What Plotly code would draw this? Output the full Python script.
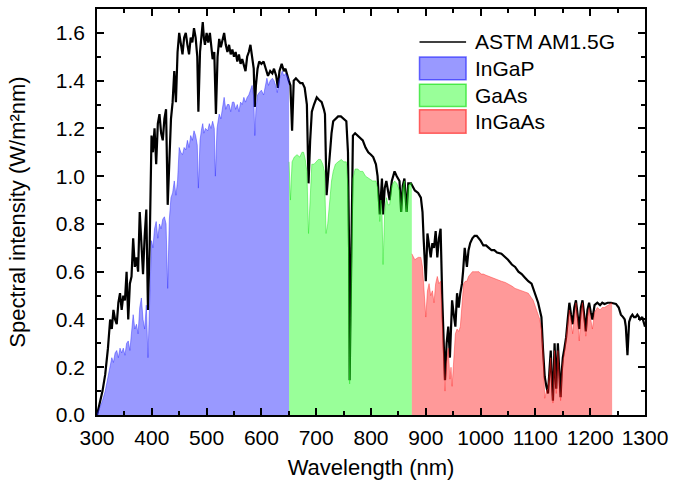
import plotly.graph_objects as go

# ---------------- data ----------------
am_wl = [300, 305, 310, 315, 320, 324, 327, 330, 333, 336, 339, 342, 345, 348, 351, 354, 357, 360, 363, 366,
         369, 372, 375, 378, 381, 384, 387, 390, 393, 396, 399.5, 402, 405, 408, 411, 414, 417, 420, 423, 426,
         429, 432, 435, 438, 441, 444, 447, 450, 453, 456, 459, 462, 465, 468, 471, 474, 477, 480, 483, 485,
         488, 491, 493, 495, 497, 500, 503, 506, 509, 511, 514, 517, 520, 523, 526, 529, 532, 535, 538, 541,
         544, 547, 550, 553, 556, 559, 562, 565, 568, 571, 574, 577, 580, 583, 586, 588, 590, 593, 596, 600,
         604, 608, 612, 616, 620, 623, 627, 630, 633, 637, 641, 644, 647, 650, 653, 656, 659, 663, 667, 671,
         675, 679, 683, 686, 689, 692, 696, 701, 705, 710, 714, 716, 719, 722, 725, 728, 731, 735, 740, 745,
         750, 755, 758, 760, 761, 763, 765, 767, 771, 776, 780, 785, 790, 795, 800, 804, 809, 812, 816, 818,
         820, 822, 825, 828, 831, 834, 838, 843, 847, 852, 855, 858, 861, 865, 868, 873, 880, 886, 891, 894,
         896, 898, 900, 903, 906, 909, 912, 915, 918, 921, 924, 927, 930, 933, 935, 938, 941, 944, 946, 948,
         951, 954, 957, 960, 963, 966, 968, 971, 973, 975, 978, 981, 985, 989, 993, 997, 1000, 1005, 1010, 1015,
         1020, 1025, 1030, 1038, 1045, 1050, 1057, 1063, 1069, 1075, 1081, 1087, 1093, 1096, 1099, 1102, 1105, 1108, 1111, 1114,
         1117, 1120, 1123, 1126, 1128, 1130, 1132, 1135, 1138, 1141, 1143, 1146, 1148, 1150, 1153, 1156, 1159, 1162, 1165, 1168,
         1171, 1174, 1177, 1180, 1183, 1186, 1189, 1192, 1195, 1198, 1201, 1204, 1208, 1213, 1218, 1222, 1226, 1232, 1238, 1242,
         1247, 1252, 1256, 1260, 1263, 1265, 1268, 1271, 1274, 1277, 1280, 1283, 1286, 1289, 1291, 1295, 1298, 1300]
am_val = [0.0, 0.05, 0.10, 0.17, 0.28, 0.40, 0.36, 0.44, 0.40, 0.38, 0.47, 0.51, 0.44, 0.50, 0.48, 0.60, 0.40, 0.55, 0.58, 0.74,
          0.62, 0.66, 0.60, 0.85, 0.70, 0.59, 0.75, 0.86, 0.44, 0.70, 1.17, 1.10, 1.20, 1.05, 1.22, 1.26, 1.18, 1.15, 1.24, 1.28,
          0.88, 1.10, 1.24, 1.31, 1.44, 1.31, 1.52, 1.60, 1.55, 1.51, 1.58, 1.60, 1.55, 1.51, 1.58, 1.56, 1.62, 1.58, 1.50, 1.27,
          1.52, 1.60, 1.645, 1.58, 1.55, 1.60, 1.56, 1.60, 1.52, 1.49, 1.52, 1.26, 1.50, 1.575, 1.54, 1.57, 1.60, 1.55, 1.52, 1.55,
          1.51, 1.53, 1.50, 1.52, 1.48, 1.51, 1.47, 1.49, 1.46, 1.44, 1.50, 1.52, 1.55, 1.50, 1.45, 1.29, 1.38, 1.45, 1.48, 1.47,
          1.48, 1.45, 1.42, 1.44, 1.43, 1.45, 1.42, 1.37, 1.44, 1.47, 1.44, 1.45, 1.42, 1.40, 1.38, 1.19, 1.40, 1.41, 1.40, 1.39,
          1.39, 1.37, 1.30, 0.97, 1.15, 1.27, 1.30, 1.33, 1.32, 1.31, 1.28, 1.26, 0.92, 1.02, 1.08, 1.18, 1.23, 1.24, 1.25, 1.25,
          1.24, 1.23, 1.10, 0.70, 0.146, 0.45, 0.80, 1.17, 1.18, 1.17, 1.16, 1.15, 1.12, 1.10, 1.09, 1.08, 1.05, 1.00, 0.84, 0.95,
          0.99, 0.84, 0.95, 0.98, 0.94, 0.90, 0.98, 1.02, 1.00, 0.98, 0.85, 0.96, 0.99, 0.85, 0.97, 0.97, 0.94, 0.93, 0.91, 0.85,
          0.74, 0.65, 0.56, 0.76, 0.70, 0.66, 0.72, 0.70, 0.77, 0.66, 0.74, 0.78, 0.49, 0.25, 0.146, 0.30, 0.37, 0.24, 0.36, 0.48,
          0.42, 0.37, 0.51, 0.45, 0.51, 0.55, 0.60, 0.70, 0.66, 0.62, 0.69, 0.72, 0.74, 0.75, 0.75, 0.74, 0.73, 0.71, 0.71, 0.70,
          0.69, 0.69, 0.68, 0.675, 0.66, 0.65, 0.63, 0.62, 0.60, 0.59, 0.575, 0.56, 0.55, 0.53, 0.51, 0.49, 0.47, 0.44, 0.41, 0.27,
          0.16, 0.12, 0.09, 0.20, 0.27, 0.15, 0.06, 0.30, 0.11, 0.30, 0.20, 0.075, 0.18, 0.24, 0.28, 0.325, 0.40, 0.47, 0.42, 0.38,
          0.45, 0.48, 0.42, 0.36, 0.45, 0.48, 0.42, 0.35, 0.44, 0.47, 0.43, 0.40, 0.46, 0.47, 0.46, 0.47, 0.465, 0.47, 0.47, 0.468,
          0.465, 0.45, 0.42, 0.41, 0.40, 0.37, 0.25, 0.39, 0.41, 0.42, 0.41, 0.41, 0.42, 0.41, 0.40, 0.41, 0.39, 0.37]

ingap_wl = [300, 305, 310, 315, 320, 324, 327, 330, 333, 336, 339, 342, 345, 348, 351, 354, 357, 360, 363, 366,
            369, 372, 375, 378, 381, 384, 387, 390, 393, 396, 399.5, 402, 405, 408, 411, 414, 417, 420, 423, 426,
            429, 432, 435, 438, 441, 444, 447, 450, 453, 456, 459, 462, 465, 468, 471, 474, 477, 480, 483, 485,
            488, 491, 493, 495, 498, 502, 505, 508, 511, 514, 516, 519, 523, 526, 529, 532, 535, 538, 541, 544,
            547, 550, 553, 556, 559, 562, 565, 568, 571, 574, 577, 580, 583, 586, 588, 590, 593, 596, 600, 604,
            607, 610, 613, 616, 620, 623, 626, 629, 632, 635, 638, 641, 644, 647, 650.5]
ingap_val = [0.0, 0.03, 0.06, 0.10, 0.16, 0.21, 0.24, 0.22, 0.26, 0.27, 0.24, 0.28, 0.26, 0.28, 0.25, 0.30, 0.31, 0.27, 0.35, 0.42,
             0.36, 0.38, 0.34, 0.45, 0.49, 0.40, 0.36, 0.46, 0.24, 0.44, 0.73, 0.70, 0.78, 0.81, 0.74, 0.80, 0.78, 0.82, 0.83, 0.80,
             0.53, 0.82, 0.91, 0.93, 0.98, 0.92, 0.98, 1.12, 1.10, 1.09, 1.12, 1.11, 1.15, 1.12, 1.17, 1.15, 1.19, 1.17, 1.13, 0.95,
             1.15, 1.20, 1.22, 1.18, 1.20, 1.19, 1.22, 1.20, 1.23, 1.20, 1.00, 1.20, 1.26, 1.24, 1.28, 1.33, 1.28, 1.30, 1.30, 1.27,
             1.31, 1.31, 1.28, 1.30, 1.27, 1.31, 1.30, 1.33, 1.31, 1.33, 1.34, 1.36, 1.38, 1.33, 1.17, 1.28, 1.34, 1.35, 1.36, 1.34,
             1.38, 1.41, 1.38, 1.40, 1.41, 1.40, 1.38, 1.35, 1.40, 1.42, 1.44, 1.42, 1.43, 1.42, 1.40]

gaas_wl = [650.5, 653, 656, 660, 665, 670, 674, 677, 680, 683, 686, 689, 692, 696, 700, 704, 708, 712, 715, 718,
           721, 725, 728, 731, 735, 740, 746, 750, 755, 758, 760, 761, 763, 765, 767, 771, 776, 780, 785, 790,
           797, 803, 809, 812, 816, 818, 820, 822, 825, 828, 831, 834, 838, 843, 847, 852, 855, 858, 861, 865,
           868, 872, 874.5]
gaas_val = [1.06, 0.90, 1.06, 1.08, 1.09, 1.08, 1.10, 1.10, 1.07, 1.02, 0.76, 0.92, 1.05, 1.05, 1.06, 1.07, 1.07, 1.05, 1.02, 0.76,
            0.80, 0.91, 0.98, 1.02, 1.05, 1.06, 1.07, 1.06, 1.06, 0.95, 0.55, 0.13, 0.40, 0.75, 0.99, 1.03, 1.03, 1.02, 1.02, 1.00,
            0.99, 0.98, 0.98, 0.95, 0.81, 0.90, 0.85, 0.63, 0.85, 0.91, 0.88, 0.88, 0.96, 0.98, 0.97, 0.94, 0.85, 0.95, 0.98, 0.85,
            0.96, 0.97, 0.97]

ingaas_wl = [874.5, 880, 886, 891, 894, 896, 898, 900, 903, 906, 909, 912, 915, 918, 921, 924, 927, 930, 933, 935,
             938, 941, 944, 946, 948, 951, 954, 957, 960, 963, 966, 969, 972, 975, 978, 981, 985, 989, 993, 997,
             1001, 1005, 1010, 1015, 1020, 1026, 1032, 1038, 1045, 1050, 1057, 1063, 1069, 1075, 1081, 1087, 1093, 1096, 1099, 1102,
             1105, 1108, 1111, 1114, 1117, 1120, 1123, 1126, 1128, 1130, 1132, 1135, 1138, 1141, 1143, 1146, 1148, 1150, 1153, 1156,
             1159, 1162, 1165, 1168, 1171, 1174, 1177, 1180, 1183, 1186, 1189, 1192, 1195, 1198, 1201, 1204, 1208, 1213, 1218, 1222,
             1226, 1232, 1238, 1240]
ingaas_val = [0.675, 0.65, 0.66, 0.66, 0.62, 0.56, 0.47, 0.41, 0.52, 0.55, 0.50, 0.52, 0.47, 0.55, 0.58, 0.55, 0.56, 0.40, 0.24, 0.10,
              0.22, 0.28, 0.15, 0.20, 0.12, 0.25, 0.34, 0.36, 0.35, 0.37, 0.45, 0.55, 0.56, 0.56, 0.58, 0.59, 0.60, 0.60, 0.60, 0.60,
              0.59, 0.59, 0.585, 0.58, 0.575, 0.57, 0.565, 0.56, 0.555, 0.55, 0.54, 0.53, 0.525, 0.52, 0.515, 0.51, 0.49, 0.48, 0.46, 0.44,
              0.42, 0.40, 0.36, 0.27, 0.07, 0.10, 0.11, 0.18, 0.24, 0.12, 0.05, 0.27, 0.09, 0.27, 0.17, 0.06, 0.15, 0.22, 0.26, 0.31,
              0.38, 0.44, 0.40, 0.34, 0.42, 0.47, 0.40, 0.31, 0.42, 0.47, 0.40, 0.33, 0.41, 0.45, 0.40, 0.36, 0.43, 0.45, 0.44, 0.45,
              0.45, 0.46, 0.47, 0.47]

series_names = ["ASTM AM1.5G", "InGaP", "GaAs", "InGaAs"]
x_ticks = [300, 400, 500, 600, 700, 800, 900, 1000, 1100, 1200, 1300]
y_ticks = [0.0, 0.2, 0.4, 0.6, 0.8, 1.0, 1.2, 1.4, 1.6]

# ---------------- styles ----------------
FONT = "Liberation Sans, Arial, sans-serif"
fills = {
    "InGaP": ("rgba(0,0,255,0.4)", "rgba(40,40,255,0.45)"),
    "GaAs": ("rgba(0,255,0,0.4)", "rgba(40,230,40,0.5)"),
    "InGaAs": ("rgba(255,0,0,0.4)", "rgba(255,40,40,0.45)"),
}

fig = go.Figure()
fig.add_trace(go.Scatter(x=am_wl, y=am_val, mode="lines", name=series_names[0],
                         line=dict(color="black", width=2.2), showlegend=False))
for name, wl, val in [("InGaP", ingap_wl, ingap_val), ("GaAs", gaas_wl, gaas_val), ("InGaAs", ingaas_wl, ingaas_val)]:
    fc, lc = fills[name]
    fig.add_trace(go.Scatter(x=wl, y=val, mode="lines", name=name, fill="tozeroy",
                             fillcolor=fc, line=dict(color=lc, width=1), showlegend=False))

# manual legend (paper coordinates)
leg_x0, leg_x1, txt_x = 0.5885, 0.6735, 0.686
fig.add_shape(type="line", xref="paper", yref="paper", x0=leg_x0, x1=leg_x1, y0=0.919, y1=0.919,
              line=dict(color="black", width=1.5))
boxes = [("InGaP", 0.882, 0.826), ("GaAs", 0.8145, 0.760), ("InGaAs", 0.7517, 0.694)]
border = {"InGaP": "rgba(0,0,255,0.55)", "GaAs": "rgba(0,220,0,0.6)", "InGaAs": "rgba(255,0,0,0.55)"}
for name, yt, yb in boxes:
    fig.add_shape(type="rect", xref="paper", yref="paper", x0=leg_x0, x1=leg_x1, y0=yb, y1=yt,
                  fillcolor=fills[name][0], line=dict(color=border[name], width=1.5))
label_y = [0.919, 0.854, 0.787, 0.723]
for name, yy in zip(series_names, label_y):
    fig.add_annotation(xref="paper", yref="paper", x=txt_x, y=yy, text=name, showarrow=False,
                       xanchor="left", yanchor="middle", font=dict(family=FONT, size=21, color="black"))

axis_common = dict(showline=True, linecolor="black", linewidth=1.5, mirror="allticks",
                   ticks="inside", ticklen=7, tickwidth=1.5, tickcolor="black",
                   showgrid=False, zeroline=False,
                   tickfont=dict(family=FONT, size=21, color="black"))
fig.update_xaxes(range=[300, 1300], tickvals=x_ticks, ticktext=[str(v) for v in x_ticks],
                 minor=dict(ticks="inside", ticklen=4, tickwidth=1.5, tickcolor="black", dtick=50, tick0=300),
                 title=dict(text="Wavelength (nm)", font=dict(family=FONT, size=22, color="black"), standoff=12),
                 ticklabelstandoff=3,
                 **axis_common)
fig.update_yaxes(range=[0, 1.7], tickvals=y_ticks, ticktext=[f"{v:.1f}" for v in y_ticks],
                 minor=dict(ticks="inside", ticklen=4, tickwidth=1.5, tickcolor="black", dtick=0.1, tick0=0),
                 title=dict(text="Spectral intensity (W/m²nm)", font=dict(family=FONT, size=22, color="black"), standoff=24),
                 ticklabelstandoff=6,
                 **axis_common)

fig.update_layout(width=675, height=483, margin=dict(l=97, r=25, t=7, b=68),
                  paper_bgcolor="white", plot_bgcolor="white", showlegend=False,
                  font=dict(family=FONT, color="black"))

fig.write_html("out.html")
